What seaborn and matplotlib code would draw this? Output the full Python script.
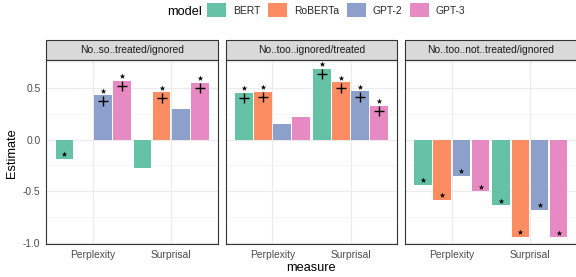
import numpy as np
import pandas as pd
import seaborn as sns
import matplotlib.pyplot as plt
from matplotlib.patches import Patch, Rectangle
from matplotlib.ticker import MultipleLocator

# Data
conditions = ['No..so..treated/ignored', 'No..too..ignored/treated', 'No..too..not..treated/ignored']
measures = ['Perplexity', 'Surprisal']
models = ['BERT', 'RoBERTa', 'GPT-2', 'GPT-3']

# order: Perplexity (BERT, RoBERTa, GPT-2, GPT-3), Surprisal (BERT, RoBERTa, GPT-2, GPT-3)
est_so = [-0.185, -0.008, 0.427, 0.566, -0.28, 0.456, 0.294, 0.546]
est_too = [0.45, 0.462, 0.146, 0.214, 0.686, 0.553, 0.466, 0.326]
est_not = [-0.44, -0.586, -0.35, -0.502, -0.638, -0.942, -0.683, -0.948]

sig_so = [1, 0, 1, 1, 0, 1, 0, 1]
sig_too = [1, 1, 0, 0, 1, 1, 1, 1]
sig_not = [1, 1, 1, 1, 1, 1, 1, 1]

nan = np.nan
cross_so = [nan, nan, 0.375, 0.517, nan, 0.404, nan, 0.495]
cross_too = [0.398, 0.41, nan, nan, 0.634, 0.5, 0.414, 0.275]
cross_not = [nan] * 8

rows = []
for cond, est, sig, cr in zip(conditions, [est_so, est_too, est_not],
                              [sig_so, sig_too, sig_not], [cross_so, cross_too, cross_not]):
    for i, (e, s, c) in enumerate(zip(est, sig, cr)):
        rows.append(dict(condition=cond, measure=measures[i // 4], model=models[i % 4],
                         estimate=e, sig=s, cross=c))
df = pd.DataFrame(rows)

sns.set_style('white')
plt.rcParams['font.family'] = ['Liberation Sans', 'DejaVu Sans']

palette = dict(zip(models, sns.color_palette('Set2', 4)))

W, H = 576, 277
fig = plt.figure(figsize=(W / 100, H / 100), dpi=100)

small = 7.4
big = 9.2

pan_left = [46.3, 225.6, 405.0]
pan_w = 171.8
pan_top, pan_bot = 60.0, 244.3
strip_h = 20.0
group_w = 0.98
offsets = (np.arange(4) - 1.5) * group_w / 4

for k, cond in enumerate(conditions):
    ax = fig.add_axes([pan_left[k] / W, (H - pan_bot) / H, pan_w / W, (pan_bot - pan_top) / H])
    sub = df[df.condition == cond]
    sns.barplot(data=sub, x='measure', y='estimate', hue='model', order=measures,
                hue_order=models, palette=palette, width=group_w, gap=0.08, saturation=1,
                legend=False, ax=ax, linewidth=0, errorbar=None, zorder=2)

    # significance stars and crosses
    for _, r in sub.iterrows():
        xpos = measures.index(r.measure) + offsets[models.index(r.model)]
        if r.sig:
            ax.scatter(xpos, r.estimate + 0.045, marker='*', s=18, color='black',
                       linewidths=0, zorder=4)
        if not np.isnan(r.cross):
            ax.scatter(xpos, r.cross, marker='+', s=55, color='black',
                       linewidths=1.0, zorder=4)

    ax.set_xlim(-0.6, 1.6)
    ax.set_ylim(-1.015, 0.77)
    ax.yaxis.set_major_locator(MultipleLocator(0.5))
    ax.yaxis.set_minor_locator(MultipleLocator(0.25))
    ax.set_axisbelow(True)
    ax.grid(which='major', color='#EBEBEB', linewidth=0.8)
    ax.grid(which='minor', axis='y', color='#F2F2F2', linewidth=0.5)
    ax.set_xlabel('')
    ax.set_ylabel('')
    ax.tick_params(axis='both', which='major', length=2.2, width=0.6, color='#333333',
                   labelcolor='#4D4D4D', labelsize=small, pad=2)
    ax.tick_params(axis='both', which='minor', length=0)
    if k > 0:
        ax.tick_params(axis='y', labelleft=False, length=0)
    ax.yaxis.set_major_formatter(plt.FuncFormatter(lambda v, p: f'{v:.1f}'))
    for sp in ax.spines.values():
        sp.set_color('#333333')
        sp.set_linewidth(0.8)

    # facet strip
    sh = strip_h / (pan_bot - pan_top)
    ax.add_patch(Rectangle((0, 1), 1, sh, transform=ax.transAxes, clip_on=False,
                           facecolor='#D9D9D9', edgecolor='#333333', linewidth=0.8))
    ax.text(0.5, 1 + sh / 2, cond, transform=ax.transAxes, ha='center', va='center',
            fontsize=small, color='#1A1A1A')

fig.text(12.5 / W, 1 - 153 / H, 'Estimate', rotation=90, ha='center', va='center',
         fontsize=big, color='black')
fig.text(311 / W, 1 - 268 / H, 'measure', ha='center', va='center',
         fontsize=big, color='black')

handles = [Patch(facecolor=palette[m], edgecolor='none') for m in models]
fig.legend(handles, models, ncol=4, loc='upper left', bbox_to_anchor=(207.3 / W, 1 - 3.3 / H),
           frameon=False, fontsize=small, handlelength=1.82, handleheight=1.72,
           handletextpad=0.65, columnspacing=0.8, borderpad=0, borderaxespad=0)
fig.text(166.7 / W, 1 - 12.3 / H, 'model', ha='left', va='center', fontsize=big, color='black')

fig.savefig('out.png', dpi=100)
